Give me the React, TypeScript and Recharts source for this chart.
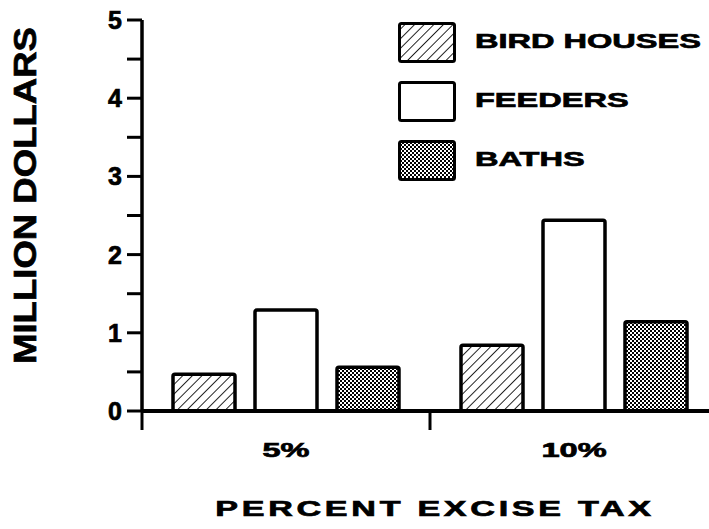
import React from 'react';
import { BarChart, Bar, XAxis, YAxis, Legend } from 'recharts';

const categories = ['5%', '10%'];
const birdHouses = [0.47, 0.84];
const feeders = [1.29, 2.44];
const baths = [0.56, 1.14];
const seriesNames = ['BIRD HOUSES', 'FEEDERS', 'BATHS'];
const yTicks = [0, 0.5, 1, 1.5, 2, 2.5, 3, 3.5, 4, 4.5, 5];
const yLabelTicks = [0, 1, 2, 3, 4, 5];
const xTitle = 'PERCENT EXCISE TAX';
const yTitle = 'MILLION DOLLARS';

const data = categories.map((c, i) => ({
  cat: c,
  birdHouses: birdHouses[i],
  feeders: feeders[i],
  baths: baths[i],
}));

const FONT = '"Liberation Sans", Arial, Helvetica, sans-serif';
const SX = 1.55;
const TS = 0.7;

const Patterns = ({ p }: { p: string }) => (
  <defs>
    <pattern id={`${p}hatch`} patternUnits="userSpaceOnUse" width="6.8" height="6.8" patternTransform="rotate(45)">
      <rect x="0" y="0" width="6.8" height="6.8" fill="#fff" />
      <line x1="0" y1="0" x2="0" y2="6.8" stroke="#000" strokeWidth="1.7" />
    </pattern>
    <pattern id={`${p}dots`} patternUnits="userSpaceOnUse" width="4" height="4">
      <rect x="0" y="0" width="4" height="4" fill="#fff" />
      <rect x="0" y="0" width="2" height="2" fill="#000" />
      <rect x="2" y="2" width="2" height="2" fill="#000" />
    </pattern>
  </defs>
);

const fills = ['hatch', '#fff', 'dots'];

const YTick = (props: any) => {
  const { x, y, payload } = props;
  if (!yLabelTicks.includes(payload.value)) return null;
  return (
    <text x={x} y={y} dy={9} textAnchor="end" fontFamily={FONT} fontWeight="bold" fontSize={25} fill="#000" stroke="#000" strokeWidth={TS}>
      {payload.value}
    </text>
  );
};

const XTick = (props: any) => {
  const { x, y, payload } = props;
  const off = payload && typeof payload.offset === 'number' ? payload.offset : 144;
  return (
    <g>
      <line x1={x - off} y1={y} x2={x - off} y2={y + 19} stroke="#000" strokeWidth={3} />
      <text
        transform={`translate(${x},${y + 46}) scale(${SX},1)`}
        textAnchor="middle"
        fontFamily={FONT}
        fontWeight="bold"
        fontSize={21}
        fill="#000"
        stroke="#000"
        strokeWidth={TS}
      >
        {payload.value}
      </text>
    </g>
  );
};

const LegendContent = () => {
  return (
    <svg width={319} height={180} style={{ display: 'block' }}>
      <Patterns p="lg-" />
      {seriesNames.map((name, i) => {
        const f = fills[i];
        const fill = f.startsWith('#') ? f : `url(#lg-${f})`;
        return (
          <g key={i}>
            <rect x={9.5} y={13.5 + i * 59} width={55} height={38} rx={2} fill={fill} stroke="#000" strokeWidth={3} />
            <text
              transform={`translate(85,${38 + i * 59}) scale(${SX},1)`}
              fontFamily={FONT}
              fontWeight="bold"
              fontSize={21}
              fill="#000"
              stroke="#000"
              strokeWidth={TS}
            >
              {name}
            </text>
          </g>
        );
      })}
    </svg>
  );
};

export default function App() {
  return (
    <div style={{ position: 'absolute', left: 0, top: 0, width: 709, height: 529, overflow: 'hidden', background: '#fff' }}>
      <BarChart width={718} height={529} data={data} margin={{ top: 20, right: 0, bottom: 0, left: 0 }} barSize={62} barGap={20}>
        <Patterns p="ch-" />
        <XAxis
          dataKey="cat"
          axisLine={{ stroke: '#000', strokeWidth: 4 }}
          tickLine={false}
          tickSize={0}
          tickMargin={0}
          height={118}
          tick={<XTick />}
          interval={0}
          label={(p: any) => (
            <text
              transform={`translate(435,516) scale(${SX},1)`}
              textAnchor="middle"
              fontFamily={FONT}
              fontWeight="bold"
              fontSize={22}
              letterSpacing={2.4}
              fill="#000"
              stroke="#000"
              strokeWidth={TS}
            >
              {xTitle}
            </text>
          )}
        />
        <YAxis
          type="number"
          domain={[0, 5]}
          ticks={yTicks}
          interval={0}
          width={142}
          tickSize={15}
          tickMargin={5}
          axisLine={{ stroke: '#000', strokeWidth: 3.5 }}
          tickLine={{ stroke: '#000', strokeWidth: 3 }}
          tick={<YTick />}
          label={(p: any) => (
            <text
              transform="translate(36,195.5) rotate(-90)"
              textAnchor="middle"
              fontFamily={FONT}
              fontWeight="bold"
              fontSize={32}
              textLength={337}
              lengthAdjust="spacingAndGlyphs"
              fill="#000"
              stroke="#000"
              strokeWidth={TS}
            >
              {yTitle}
            </text>
          )}
        />
        <Legend
          layout="vertical"
          align="center"
          verticalAlign="middle"
          wrapperStyle={{ position: 'absolute', left: 390, top: 10, width: 319, height: 180 }}
          content={<LegendContent />}
        />
        <Bar dataKey="birdHouses" name={seriesNames[0]} fill="url(#ch-hatch)" stroke="#000" strokeWidth={3.5} radius={2} isAnimationActive={false} />
        <Bar dataKey="feeders" name={seriesNames[1]} fill="#fff" stroke="#000" strokeWidth={3.5} radius={2} isAnimationActive={false} />
        <Bar dataKey="baths" name={seriesNames[2]} fill="url(#ch-dots)" stroke="#000" strokeWidth={3.5} radius={2} isAnimationActive={false} />
      </BarChart>
    </div>
  );
}
